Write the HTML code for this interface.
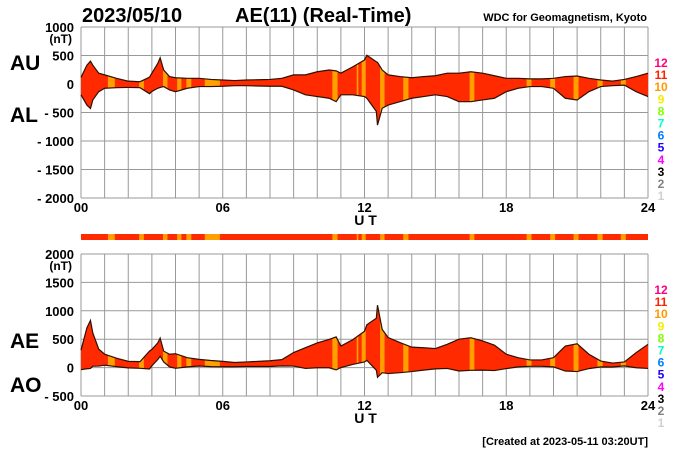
<!DOCTYPE html>
<html><head><meta charset="utf-8"><style>
html,body{margin:0;padding:0;background:#fff;}
svg{display:block;font-family:"Liberation Sans",Arial,sans-serif;}
</style></head><body>
<svg id="chart" width="700" height="450" viewBox="0 0 700 450">
<text x="82" y="22" font-size="20" font-weight="bold">2023/05/10</text>
<text x="235" y="22" font-size="20" font-weight="bold">AE(11) (Real-Time)</text>
<text x="647" y="21" font-size="11" font-weight="bold" text-anchor="end">WDC for Geomagnetism, Kyoto</text>
<text x="10" y="70" font-size="21" font-weight="bold">AU</text>
<text x="10" y="122" font-size="21" font-weight="bold">AL</text>
<text x="10" y="348" font-size="21" font-weight="bold">AE</text>
<text x="10" y="392" font-size="21" font-weight="bold">AO</text>
<text x="648" y="445" font-size="11" font-weight="bold" text-anchor="end">[Created at 2023-05-11 03:20UT]</text>
<g id="g"></g>
</svg>
<script>
const times=[0,0.25,0.4,0.5,0.75,1,1.5,2,2.5,2.9,3,3.25,3.35,3.5,3.75,4,4.5,5,5.5,6,6.5,7,7.5,8,8.5,9,9.5,10,10.5,10.8,11,11.5,12,12.1,12.5,12.55,12.75,13,13.5,14,14.5,15,15.5,16,16.5,17,17.5,18,18.5,19,19.5,20,20.5,21,21.5,22,22.5,23,23.5,24];
const auValues=[117,330,400,330,190,160,100,50,40,120,190,360,460,245,130,110,100,100,80,70,60,70,75,80,100,160,160,215,245,230,190,300,420,505,390,380,245,160,130,110,130,145,190,190,215,190,145,100,100,90,90,100,130,140,100,70,50,80,130,190];
const alValues=[-190,-370,-430,-280,-135,-75,-65,-60,-65,-170,-130,-75,-60,-45,-105,-135,-75,-45,-45,-40,-30,-30,-35,-40,-40,-105,-190,-220,-250,-310,-190,-190,-220,-250,-480,-720,-425,-370,-310,-250,-220,-190,-220,-310,-310,-280,-250,-135,-75,-45,-45,-75,-250,-280,-135,-45,-30,-20,-135,-220];
const tenStationStart=[1.14,2.46,3.47,4.07,4.46,5.24,10.64,11.67,11.88,12.66,13.64,16.45,18.86,19.86,20.85,21.86,22.85];
const tenStationEnd=[1.43,2.66,3.66,4.25,4.67,5.88,10.86,11.74,12.05,12.85,13.86,16.65,19.07,20.07,21.06,22.08,23.06];
const xTicks=["00","06","12","18","24"];
const topTicks=[1000,500,0,-500,-1000,-1500,-2000];
const botTicks=[2000,1500,1000,500,0,-500];
const legendLabels=["12","11","10","9","8","7","6","5","4","3","2","1"];
const legendColors=["#ff0080","#ff2000","#ff9900","#f0f000","#80ff00","#00ffc0","#0080ff","#2000ff","#ff00ff","#000000","#808080","#d0d0d0"];

const NS="http://www.w3.org/2000/svg";
const g=document.getElementById('g');
const X0=81,X1=648;
const x=h=>X0+(X1-X0)*h/24;
function mk(t,a,p){const e=document.createElementNS(NS,t);for(const k in a)e.setAttribute(k,a[k]);(p||g).appendChild(e);return e;}
const RED="#ff2a00",ORG="#ffa000";

function panel(id,top,bot,vmax,vmin,ticks,upper,lower,showNT){
  const y=v=>top+(vmax-v)*(bot-top)/(vmax-vmin);
  const grp=mk('g',{});
  
  
  // grid
  for(let h=0;h<=24;h++){const l=mk('line',{x1:x(h),x2:x(h),y1:top,y2:bot,stroke:'#999','stroke-width':1},grp);
    }
  ticks.forEach(v=>{const l=mk('line',{x1:X0,x2:X1,y1:y(v),y2:y(v),stroke:'#999','stroke-width':1},grp);
    
    const t=mk('text',{x:74,y:y(v)+5,'font-size':13,'font-weight':'bold','text-anchor':'end'},grp);
    t.textContent=v<0?'- '+(-v):String(v);
    });
  if(showNT){const t=mk('text',{x:72,y:y(vmax)+16,'font-size':12,'font-weight':'bold','text-anchor':'end'},grp);t.textContent='(nT)';
    }
  // fill
  let up=times.map((h,i)=>x(h)+','+y(upper[i]));
  let lo=times.map((h,i)=>x(h)+','+y(lower[i])).reverse();
  const cp=mk('clipPath',{id:'clip-'+id},grp);
  mk('polygon',{points:up.concat(lo).join(' ')},cp);
  const fg=mk('g',{'clip-path':'url(#clip-'+id+')'},grp);
  const r=mk('rect',{x:X0,y:top,width:X1-X0,height:bot-top,fill:RED},fg);
  
  tenStationStart.forEach((s,i)=>{const o=mk('rect',{x:x(s),y:top,width:x(tenStationEnd[i])-x(s),height:bot-top,fill:ORG},fg);
    });
  const l1=mk('polyline',{points:up.join(' '),fill:'none',stroke:'#301000','stroke-width':1.2},grp);
  
  const l2=mk('polyline',{points:lo.join(' '),fill:'none',stroke:'#301000','stroke-width':1.2},grp);
  
  xTicks.forEach(s=>{const t=mk('text',{x:x(+s),y:bot+14,'font-size':13,'font-weight':'bold','text-anchor':'middle'},grp);t.textContent=s;
    });
  const u=mk('text',{x:x(12)+1,y:bot+27,'font-size':14,'font-weight':'bold','text-anchor':'middle'},grp);u.textContent='U T';
  
  legendLabels.forEach((s,i)=>{const t=mk('text',{x:661,y:top+40+i*12.1,'font-size':12,'font-weight':'bold','text-anchor':'middle',fill:legendColors[i]},grp);t.textContent=s;
    });
}
panel('au-al',27,198,1000,-2000,topTicks,auValues,alValues,true);
const aeValues=auValues.map((v,i)=>v-alValues[i]);
const aoValues=auValues.map((v,i)=>(v+alValues[i])/2);
panel('ae-ao',254,396,2000,-500,botTicks,aeValues,aoValues,true);
// strip
const strip=mk('rect',{x:X0,y:234,width:X1-X0,height:6,fill:RED});


tenStationStart.forEach((s,i)=>{const o=mk('rect',{x:x(s),y:234,width:x(tenStationEnd[i])-x(s),height:6,fill:ORG});
  
  });
</script>
</body></html>
